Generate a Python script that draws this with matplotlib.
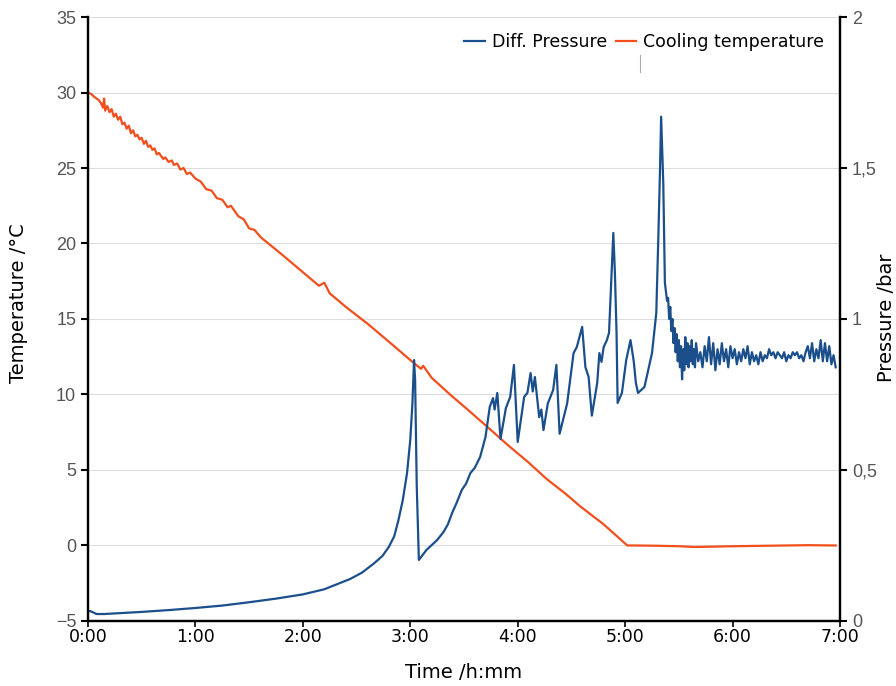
import matplotlib
matplotlib.use("Agg")
import matplotlib.pyplot as plt
from matplotlib.ticker import FuncFormatter, MultipleLocator
from matplotlib.lines import Line2D

# cooling temperature (hours, degC)
temp_hours = [0.00, 0.03, 0.06, 0.10, 0.12, 0.14, 0.15, 0.16, 0.18, 0.20, 0.22, 0.24,
              0.26, 0.28, 0.30, 0.32, 0.34, 0.36, 0.38, 0.40, 0.42, 0.44, 0.46, 0.48,
              0.50, 0.52, 0.54, 0.56, 0.58, 0.60, 0.62, 0.64, 0.66, 0.68, 0.70, 0.72,
              0.75, 0.78, 0.80, 0.83, 0.86, 0.89, 0.92, 0.95, 1.00, 1.05, 1.10, 1.15,
              1.20, 1.25, 1.30, 1.33, 1.40, 1.45, 1.50, 1.55, 1.61,
              1.80, 2.00, 2.15, 2.20, 2.25, 2.40, 2.60, 2.80, 3.03, 3.10, 3.12, 3.20,
              3.37, 3.55, 3.71, 3.90, 4.10, 4.27, 4.45, 4.58, 4.80, 5.02, 5.10, 5.30,
              5.50, 5.65, 5.80, 6.00, 6.20, 6.50, 6.70, 6.96]
temp_c = [30.0, 29.9, 29.7, 29.5, 29.3, 29.0, 29.6, 28.8, 29.1, 28.7, 28.9, 28.4,
          28.6, 28.2, 28.4, 27.9, 28.0, 27.6, 27.8, 27.3, 27.5, 27.1, 27.2, 26.9,
          27.0, 26.6, 26.8, 26.4, 26.5, 26.2, 26.3, 25.9, 26.0, 25.8, 25.6, 25.7,
          25.4, 25.5, 25.2, 25.3, 24.9, 25.0, 24.6, 24.7, 24.3, 24.1, 23.6, 23.5,
          23.0, 22.9, 22.4, 22.5, 21.8, 21.6, 21.0, 20.9, 20.4,
          19.3, 18.1, 17.2, 17.4, 16.7, 15.8, 14.7, 13.5, 12.1, 11.7, 11.9, 11.1,
          10.0, 8.9, 7.9, 6.7, 5.5, 4.4, 3.4, 2.6, 1.4, 0.0, 0.0, -0.02,
          -0.05, -0.1, -0.08, -0.05, -0.03, 0.0, 0.02, 0.0]

# differential pressure (hours, bar)
pres_hours = [0.00, 0.02, 0.05, 0.08, 0.15, 0.30, 0.50, 0.75, 1.00, 1.25, 1.50, 1.75,
              2.00, 2.20, 2.44, 2.55, 2.66, 2.74, 2.80, 2.85, 2.89, 2.93, 2.97, 3.00,
              3.02, 3.035, 3.045, 3.06, 3.08, 3.15, 3.25, 3.31, 3.35, 3.39, 3.43, 3.48,
              3.52, 3.56, 3.60, 3.65, 3.70, 3.74, 3.77, 3.785, 3.81, 3.84, 3.89, 3.93,
              3.965, 4.00, 4.06, 4.09, 4.12, 4.14, 4.16, 4.20, 4.22, 4.24, 4.28, 4.33,
              4.36, 4.39, 4.46, 4.52, 4.55, 4.60, 4.63, 4.66, 4.69, 4.74, 4.76, 4.78,
              4.80, 4.83, 4.85, 4.87, 4.89, 4.905, 4.92, 4.93, 4.97, 5.01, 5.05, 5.08,
              5.10, 5.12, 5.18, 5.25, 5.29, 5.31, 5.325, 5.335, 5.345, 5.355, 5.37, 5.38,
              5.39, 5.40, 5.41, 5.42, 5.43, 5.44, 5.45, 5.46, 5.47, 5.48, 5.49, 5.50,
              5.51, 5.52, 5.53, 5.54, 5.55, 5.56, 5.57, 5.58, 5.59, 5.60, 5.61, 5.62,
              5.63, 5.64, 5.65, 5.66, 5.68, 5.70, 5.72, 5.74, 5.76, 5.78, 5.80, 5.82,
              5.84, 5.86, 5.88, 5.90, 5.92, 5.94, 5.96, 5.98, 6.00, 6.02, 6.04, 6.06,
              6.08, 6.10, 6.12, 6.14, 6.16, 6.18, 6.20, 6.22, 6.24, 6.26, 6.28, 6.30,
              6.32, 6.34, 6.36, 6.38, 6.40, 6.42, 6.44, 6.46, 6.48, 6.50, 6.52, 6.54,
              6.56, 6.58, 6.60, 6.62, 6.64, 6.66, 6.68, 6.70, 6.72, 6.74, 6.76, 6.78,
              6.80, 6.82, 6.84, 6.86, 6.88, 6.90, 6.92, 6.94, 6.96]
pres_bar = [0.031, 0.033, 0.028, 0.023, 0.023, 0.026, 0.030, 0.036, 0.043, 0.051, 0.062, 0.074,
            0.088, 0.105, 0.139, 0.160, 0.190, 0.215, 0.245, 0.280, 0.334, 0.400, 0.490, 0.600,
            0.720, 0.864, 0.800, 0.450, 0.202, 0.235, 0.268, 0.295, 0.320, 0.358, 0.390, 0.434,
            0.455, 0.490, 0.507, 0.543, 0.609, 0.709, 0.738, 0.700, 0.755, 0.603, 0.705, 0.742,
            0.848, 0.593, 0.742, 0.755, 0.821, 0.760, 0.808, 0.675, 0.700, 0.632, 0.720, 0.765,
            0.848, 0.620, 0.720, 0.887, 0.907, 0.974, 0.841, 0.808, 0.680, 0.788, 0.887, 0.858,
            0.907, 0.930, 0.954, 1.116, 1.285, 1.150, 0.954, 0.722, 0.755, 0.864, 0.930, 0.860,
            0.788, 0.755, 0.775, 0.887, 1.020, 1.285, 1.500, 1.670, 1.560, 1.450, 1.120, 1.090,
            1.060, 1.070, 1.000, 1.040, 0.960, 1.000, 0.920, 0.970, 0.890, 0.950, 0.860, 0.930,
            0.840, 0.910, 0.800, 0.900, 0.830, 0.940, 0.850, 0.920, 0.840, 0.910, 0.860, 0.930,
            0.850, 0.900, 0.840, 0.920, 0.860, 0.890, 0.840, 0.910, 0.860, 0.940, 0.850, 0.920,
            0.830, 0.900, 0.850, 0.920, 0.860, 0.900, 0.840, 0.910, 0.870, 0.900, 0.850, 0.890,
            0.860, 0.900, 0.870, 0.910, 0.850, 0.890, 0.860, 0.880, 0.850, 0.890, 0.860, 0.880,
            0.870, 0.900, 0.880, 0.890, 0.870, 0.890, 0.880, 0.870, 0.890, 0.860, 0.880, 0.870,
            0.890, 0.880, 0.890, 0.870, 0.880, 0.860, 0.890, 0.910, 0.870, 0.920, 0.860, 0.900,
            0.870, 0.930, 0.860, 0.920, 0.860, 0.910, 0.850, 0.880, 0.840]

BLUE = "#1b4f8c"
ORANGE = "#f24f1c"

fig = plt.figure(figsize=(8.96, 6.86), dpi=100)
ax = fig.add_axes([0.0982, 0.0948, 0.8393, 0.8804])
ax2 = ax.twinx()

l_temp, = ax.plot(temp_hours, temp_c, color=ORANGE, lw=1.6, label="Cooling temperature")
l_pres, = ax2.plot(pres_hours, pres_bar, color=BLUE, lw=1.6, label="Diff. Pressure")

ax.set_xlim(0, 7)
ax.set_ylim(-5, 35)
ax2.set_ylim(0, 2)
ax.yaxis.set_major_locator(MultipleLocator(5))
ax2.yaxis.set_major_locator(MultipleLocator(0.5))
ax.xaxis.set_major_locator(MultipleLocator(1))
ax.xaxis.set_major_formatter(FuncFormatter(lambda v, p: "%d:00" % int(round(v))))
ax2.yaxis.set_major_formatter(FuncFormatter(lambda v, p: ("%g" % v).replace(".", ",")))

ax.grid(axis="y", color="#dddddd", lw=0.8)
ax.set_axisbelow(True)

for a in (ax, ax2):
    a.spines["top"].set_visible(False)
    for s in ("left", "right", "bottom"):
        a.spines[s].set_linewidth(1.6)
        a.spines[s].set_color("black")

ax.tick_params(axis="y", colors="black", labelcolor="#555555", labelsize=13, length=5, width=1.5)
ax2.tick_params(axis="y", colors="black", labelcolor="#555555", labelsize=13, length=5, width=1.5)
for lbl in ax.get_yticklabels() + ax2.get_yticklabels():
    lbl.set_family("Liberation Sans")
ax.tick_params(axis="x", labelsize=12.5, length=4, width=1.2, pad=1)

ax.set_xlabel("Time /h:mm", fontsize=14, labelpad=12)
fig.text(19 / 896, 1 - 303 / 686, "Temperature /°C", rotation=90, fontsize=14,
         ha="center", va="center")
fig.text(886 / 896, 1 - 318 / 686, "Pressure /bar", rotation=90, fontsize=14,
         ha="center", va="center")

ax2.legend([l_pres, l_temp], ["Diff. Pressure", "Cooling temperature"],
           loc="upper right", bbox_to_anchor=(1.0, 1.0), ncol=2, frameon=False,
           fontsize=12.5, handlelength=1.2, handletextpad=0.4, columnspacing=0.5)

fig.add_artist(Line2D([640 / 896, 640 / 896], [1 - 55 / 686, 1 - 72 / 686],
                      color="#aaaaaa", lw=0.8))

fig.savefig("out.png", dpi=100)
